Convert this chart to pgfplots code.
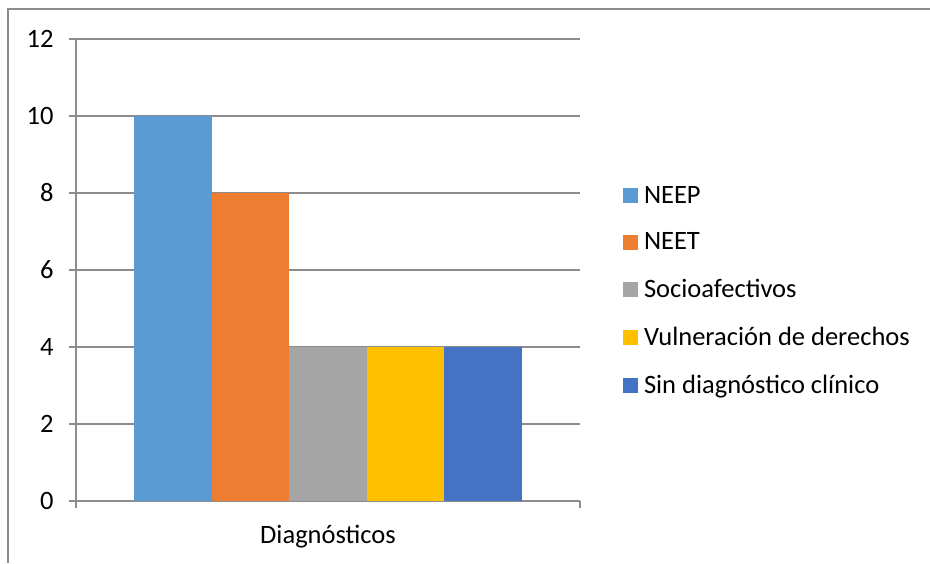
\documentclass[border=0pt]{standalone}
\usepackage{fontspec}
\setmainfont{Carlito}
\usepackage{pgfplots}
\pgfplotsset{compat=1.18}

\definecolor{cNEEP}{HTML}{5B9BD5}
\definecolor{cNEET}{HTML}{ED7D31}
\definecolor{cSocio}{HTML}{A5A5A5}
\definecolor{cVuln}{HTML}{FFC000}
\definecolor{cSin}{HTML}{4472C4}
\definecolor{gridc}{HTML}{8C8C8C}

\begin{document}
\begin{tikzpicture}[font=\fontsize{26.5}{31}\selectfont]
    \useasboundingbox (0,0) rectangle (930pt,563pt);
    % chart area border (only top and left visible)
    \draw[gridc, line width=1.2pt] (8pt,0pt) -- (8pt,554pt) -- (930pt,554pt);

    \begin{axis}[
        at={(76pt,62pt)}, anchor=south west,
        scale only axis,
        width=504pt, height=462pt,
        xmin=-0.5, xmax=0.5,
        ymin=0, ymax=12,
        ytick={0,2,...,12},
        xtick={-0.5,0.5},
        xticklabels={},
        axis x line*=bottom,
        axis y line*=left,
        axis line style={-, gridc, line width=1.2pt},
        tick align=outside,
        major tick length=7pt,
        every tick/.style={gridc, line width=1.2pt},
        ymajorgrids,
        grid style={gridc, line width=1.2pt},
        /pgf/number format/assume math mode=true,
        ticklabel style={font=\fontsize{26.5}{31}\selectfont},
        yticklabel style={xshift=-12pt},
        xlabel={Diagnósticos},
        label style={font=\fontsize{26.5}{31}\selectfont},
        xlabel style={yshift=-7pt},
        ybar, bar width=0.1536, bar shift=0pt,
        legend style={at={(1.079,0.455)}, anchor=west, draw=none, fill=none,
            row sep=24pt, font=\fontsize{26.5}{31}\selectfont,
            nodes={inner sep=2pt, anchor=west},
            /tikz/every odd column/.style={column sep=4pt}},
        legend cell align=left,
        legend image code/.code={\fill[#1] (0pt,-7.5pt) rectangle (15pt,7.5pt);},
    ]
    \addplot[fill=cNEEP, draw=none] coordinates {(-0.3072,10)};
    \addlegendentry{NEEP}
    \addplot[fill=cNEET, draw=none] coordinates {(-0.1536,8)};
    \addlegendentry{NEET}
    \addplot[fill=cSocio, draw=none] coordinates {(0,4)};
    \addlegendentry{Socioafectivos}
    \addplot[fill=cVuln, draw=none] coordinates {(0.1536,4)};
    \addlegendentry{Vulneración de derechos}
    \addplot[fill=cSin, draw=none] coordinates {(0.3072,4)};
    \addlegendentry{Sin diagnóstico clínico}
    \end{axis}
\end{tikzpicture}
\end{document}
